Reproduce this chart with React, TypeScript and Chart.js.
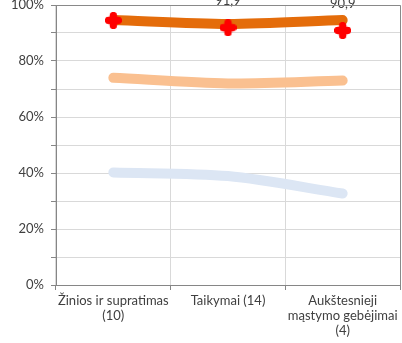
import React, { useEffect, useRef } from "react";
import { Chart, registerables } from "chart.js";

Chart.register(...registerables);

const categories: string[][] = [
  ["Žinios ir supratimas", "(10)"],
  ["Taikymai (14)"],
  ["Aukštesnieji", "mąstymo gebėjimai", "(4)"],
];
const blueSeries = [40.2, 38.9, 32.7];
const lightOrangeSeries = [74.0, 72.0, 73.0];
const darkOrangeSeries = [94.6, 93.2, 94.6];
const redSeries = [94.5, 91.9, 90.9];
const yTickStep = 10;
const yLabelStep = 20;

const FONT = "Lato, 'Open Sans', sans-serif";
const FONT_SIZE = 13;

function makeMarker(): HTMLCanvasElement {
  const c = document.createElement("canvas");
  c.width = 17;
  c.height = 17;
  const g = c.getContext("2d")!;
  g.strokeStyle = "#FF0000";
  g.lineWidth = 7.5;
  g.lineCap = "round";
  g.beginPath();
  g.moveTo(8.5, 3.6);
  g.lineTo(8.5, 13.4);
  g.moveTo(3.6, 8.5);
  g.lineTo(13.4, 8.5);
  g.stroke();
  return c;
}

const framePlugin = {
  id: "frame",
  afterDraw(chart: any) {
    const { ctx, chartArea } = chart;
    ctx.save();
    ctx.strokeStyle = "#898989";
    ctx.lineWidth = 1;
    ctx.beginPath();
    ctx.moveTo(chartArea.left, chartArea.top + 0.5);
    ctx.lineTo(chartArea.right + 0.5, chartArea.top + 0.5);
    ctx.lineTo(chartArea.right + 0.5, chartArea.bottom);
    ctx.stroke();
    ctx.restore();
  },
};

const labelPlugin = {
  id: "redLabels",
  afterDatasetsDraw(chart: any) {
    const { ctx } = chart;
    const idx = chart.data.datasets.findIndex((d: any) => d.label === "red");
    if (idx < 0) return;
    const meta = chart.getDatasetMeta(idx);
    ctx.save();
    ctx.font = `${FONT_SIZE}px ${FONT}`;
    ctx.fillStyle = "#404040";
    ctx.textAlign = "center";
    ctx.textBaseline = "middle";
    meta.data.forEach((pt: any, i: number) => {
      const v = redSeries[i];
      ctx.fillText(v.toFixed(1).replace(".", ","), pt.x, pt.y - 27);
    });
    ctx.restore();
  },
};

export default function App() {
  const ref = useRef<HTMLCanvasElement | null>(null);
  useEffect(() => {
    if (!ref.current) return;
    const marker = makeMarker();
    const lineBase = {
      borderWidth: 10,
      borderCapStyle: "round",
      borderJoinStyle: "round",
      pointRadius: 0,
      tension: 0.3,
    };
    const chart = new Chart(ref.current, {
      type: "line",
      data: {
        labels: categories,
        datasets: [
          {
            label: "red",
            data: redSeries,
            showLine: false,
            pointStyle: marker as any,
            pointRadius: 8,
            order: 0,
          },
          { label: "dark", data: darkOrangeSeries, borderColor: "#E46C0A", ...lineBase, order: 1 } as any,
          { label: "light", data: lightOrangeSeries, borderColor: "#FAC090", ...lineBase, order: 2 } as any,
          { label: "blue", data: blueSeries, borderColor: "#DCE6F4", ...lineBase, order: 3 } as any,
        ],
      },
      options: {
        responsive: false,
        animation: false,
        layout: { autoPadding: false, padding: { top: 5, right: 2, left: 0, bottom: 0 } },
        plugins: {
          legend: { display: false },
          tooltip: { enabled: false },
        },
        scales: {
          x: {
            offset: true,
            grid: {
              offset: true,
              color: "#D9D9D9",
              tickColor: "#868686",
              tickLength: 5,
            },
            border: { color: "#868686", width: 1 },
            ticks: {
              color: "#404040",
              font: { family: FONT, size: FONT_SIZE, lineHeight: 1.15 },
              maxRotation: 0,
              autoSkip: false,
              padding: 3,
            },
            afterFit: (s: any) => {
              s.height = 58;
              s.paddingLeft = 0;
              s.paddingRight = 0;
            },
          },
          y: {
            min: 0,
            max: 100,
            grid: {
              color: "#D9D9D9",
              tickColor: "#868686",
              tickLength: 5,
            },
            border: { color: "#868686", width: 1 },
            ticks: {
              stepSize: yTickStep,
              color: "#404040",
              font: { family: FONT, size: FONT_SIZE },
              padding: 7,
              callback: (v: any) => (Number(v) % yLabelStep === 0 ? `${v}%` : ""),
            },
            afterFit: (s: any) => {
              s.width = 56;
              s.paddingTop = 0;
              s.paddingBottom = 0;
            },
          },
        },
      },
      plugins: [framePlugin, labelPlugin],
    });
    return () => chart.destroy();
  }, []);
  return (
    <div style={{ position: "fixed", left: 0, top: 0, width: 402, height: 343, background: "#fff" }}>
      <canvas ref={ref} width={402} height={343} />
    </div>
  );
}
